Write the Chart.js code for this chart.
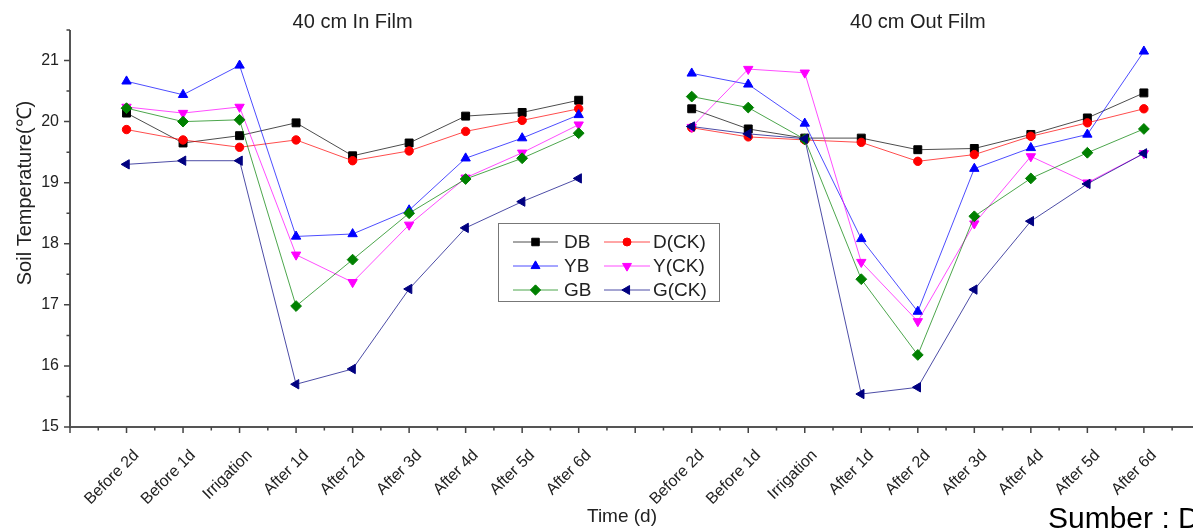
<!DOCTYPE html>
<html><head><meta charset="utf-8">
<script src="https://cdn.jsdelivr.net/npm/chart.js@4.4.1/dist/chart.umd.min.js"></script>
<style>
html,body{margin:0;padding:0;background:#fff;overflow:hidden;}
#wrap{position:relative;width:1207px;height:530px;}
</style></head><body>
<div id="wrap"><canvas id="c"></canvas></div>
<script>
// ---------- data ----------
const categories = ['Before 2d','Before 1d','Irrigation','After 1d','After 2d','After 3d','After 4d','After 5d','After 6d'];
const panelTitles = ['40 cm In Film','40 cm Out Film'];
const seriesNames = ['DB','D(CK)','YB','Y(CK)','GB','G(CK)'];
const yTickLabels = ['15','16','17','18','19','20','21'];
const yMin = 15, yMax = 21.5;
const yTitle = 'Soil Temperature(\u2103)';
const xTitle = 'Time (d)';
const sourceText = 'Sumber : D';

// 40 cm In Film
const inDB   = [20.14,19.65,19.77,19.98,19.44,19.65,20.09,20.15,20.35];
const inDCK  = [19.87,19.70,19.58,19.70,19.36,19.52,19.84,20.02,20.21];
const inYB   = [20.66,20.44,20.92,18.12,18.16,18.55,19.40,19.73,20.11];
const inYCK  = [20.24,20.14,20.24,17.82,17.37,18.31,19.08,19.49,19.95];
const inGB   = [20.22,20.00,20.03,16.98,17.74,18.50,19.06,19.40,19.81];
const inGCK  = [19.30,19.36,19.36,15.70,15.95,17.26,18.26,18.69,19.07];
// 40 cm Out Film
const outDB  = [20.21,19.88,19.73,19.73,19.54,19.56,19.79,20.06,20.47];
const outDCK = [19.90,19.75,19.70,19.66,19.35,19.46,19.76,19.98,20.21];
const outYB  = [20.79,20.61,19.97,18.08,16.89,19.23,19.57,19.79,21.15];
const outYCK = [19.91,20.86,20.80,17.70,16.73,18.33,19.43,19.00,19.48];
const outGB  = [20.41,20.23,19.71,17.42,16.18,18.45,19.07,19.49,19.88];
const outGCK = [19.92,19.80,19.72,15.54,15.65,17.25,18.37,18.98,19.48];

// ---------- styles ----------
const FONT = "'Liberation Sans', Arial, Helvetica, sans-serif";
const colors = ['#000000','#ff0000','#0000ff','#ff00ff','#008000','#000080'];
const lineColors = ['rgba(0,0,0,0.7)','rgba(255,0,0,0.7)','rgba(0,0,255,0.7)','rgba(255,0,255,0.7)','rgba(0,128,0,0.7)','rgba(0,0,128,0.7)'];
const pointStyles = ['rect','circle','triangle','triangle','rectRot','triangle'];
const pointRots = [0,0,0,180,0,270];
const pointRadii = [5.6,4.2,5.4,5.4,5.4,5.4];

// build combined axis: blank, panel 1, blank, panel 2, blank
const labels = [''].concat(categories, [''], categories, ['']);
const inSeries = [inDB,inDCK,inYB,inYCK,inGB,inGCK];
const outSeries = [outDB,outDCK,outYB,outYCK,outGB,outGCK];
const datasets = seriesNames.map((name,i)=>({
  label: name,
  data: [null].concat(inSeries[i], [null], outSeries[i], [null]),
  borderColor: lineColors[i],
  backgroundColor: colors[i],
  borderWidth: 1,
  pointStyle: pointStyles[i],
  rotation: pointRots[i],
  pointRadius: pointRadii[i],
  pointBorderWidth: 1,
  pointBorderColor: colors[i],
  pointBackgroundColor: colors[i],
  spanGaps: false,
  tension: 0,
  order: seriesNames.length - i
}));

const H = Chart.helpers;
function marker(ctx, i, x, y){
  ctx.save();
  ctx.fillStyle = colors[i]; ctx.strokeStyle = colors[i]; ctx.lineWidth = 1;
  H.drawPoint(ctx, {pointStyle: pointStyles[i], radius: pointRadii[i]*0.95, rotation: pointRots[i], borderWidth: 1}, x, y);
  ctx.restore();
}

const decor = {
  id: 'decor',
  afterDraw(chart){
    const {ctx, chartArea: a, scales: {x, y}} = chart;
    ctx.save();
    // axes lines
    ctx.strokeStyle = '#555'; ctx.lineWidth = 2;
    ctx.beginPath();
    ctx.moveTo(a.left, a.top); ctx.lineTo(a.left, a.bottom); ctx.lineTo(a.right + 10, a.bottom);
    ctx.stroke();
    // ticks
    ctx.lineWidth = 1.5; ctx.strokeStyle = '#444';
    ctx.beginPath();
    for (let v = yMin; v <= yMax + 1e-9; v += 0.5){
      const py = y.getPixelForValue(v);
      const len = Number.isInteger(v) ? 6 : 3.5;
      ctx.moveTo(a.left - len, py); ctx.lineTo(a.left, py);
    }
    for (let i = 0; i < labels.length; i++){
      const px = x.getPixelForValue(i);
      ctx.moveTo(px, a.bottom); ctx.lineTo(px, a.bottom + 6);
      if (i < labels.length - 1){
        const mx = (px + x.getPixelForValue(i + 1)) / 2;
        ctx.moveTo(mx, a.bottom); ctx.lineTo(mx, a.bottom + 3.5);
      }
    }
    ctx.stroke();
    // panel titles
    ctx.fillStyle = '#222';
    ctx.font = '20px ' + FONT;
    ctx.textAlign = 'center'; ctx.textBaseline = 'middle';
    const c1 = (x.getPixelForValue(1) + x.getPixelForValue(categories.length)) / 2;
    const c2 = (x.getPixelForValue(categories.length + 2) + x.getPixelForValue(2 * categories.length + 1)) / 2;
    ctx.fillText(panelTitles[0], c1, 22);
    ctx.fillText(panelTitles[1], c2, 22);
    // y title
    ctx.save();
    ctx.translate(25, 193);
    ctx.rotate(-Math.PI / 2);
    ctx.font = '20px ' + FONT;
    ctx.fillText(yTitle, 0, 0);
    ctx.restore();
    // x title
    ctx.font = '19px ' + FONT;
    ctx.fillText(xTitle, 622, 517);
    // source text
    ctx.fillStyle = '#000';
    ctx.textAlign = 'left'; ctx.textBaseline = 'alphabetic';
    ctx.font = '30px ' + FONT;
    ctx.fillText(sourceText, 1048, 528);
    // legend
    const bx = 498, by = 223, bw = 221, bh = 78;
    ctx.fillStyle = '#fff';
    ctx.fillRect(bx, by, bw, bh);
    ctx.strokeStyle = '#777'; ctx.lineWidth = 1;
    ctx.strokeRect(bx + 0.5, by + 0.5, bw, bh);
    ctx.font = '19px ' + FONT;
    ctx.textAlign = 'left'; ctx.textBaseline = 'middle';
    const cols = [{x0: 513, x1: 558, tx: 564}, {x0: 604, x1: 650, tx: 653}];
    const rows = [242, 266, 290];
    seriesNames.forEach((name, i) => {
      const c = cols[i % 2], ry = rows[Math.floor(i / 2)];
      ctx.strokeStyle = lineColors[i]; ctx.lineWidth = 1;
      ctx.beginPath(); ctx.moveTo(c.x0, ry); ctx.lineTo(c.x1, ry); ctx.stroke();
      marker(ctx, i, (c.x0 + c.x1) / 2, ry);
      ctx.fillStyle = '#222';
      ctx.fillText(name, c.tx, ry + 1);
    });
    ctx.restore();
  }
};

new Chart(document.getElementById('c'), {
  type: 'line',
  data: { labels: labels, datasets: datasets },
  options: {
    responsive: true,
    maintainAspectRatio: false,
    animation: false,
    events: [],
    layout: { padding: { top: 30, right: 0, bottom: 0, left: 0 } },
    plugins: { legend: { display: false }, tooltip: { enabled: false }, title: { display: false } },
    scales: {
      x: {
        type: 'category',
        offset: false,
        grid: { display: false, drawTicks: false },
        border: { display: false },
        ticks: {
          autoSkip: false, maxRotation: 45, minRotation: 45, padding: 19, labelOffset: 10,
          color: '#222', font: { family: FONT, size: 16 }
        },
        afterFit(s){ s.height = 103; s.paddingLeft = 0; s.paddingRight = 0; }
      },
      y: {
        type: 'linear',
        min: yMin, max: yMax,
        grid: { display: false, drawTicks: false },
        border: { display: false },
        ticks: {
          stepSize: 0.5, padding: 11, color: '#222', font: { family: FONT, size: 16 },
          callback: (v) => { const s = String(v); return yTickLabels.includes(s) ? s : ''; }
        },
        afterFit(s){ s.width = 70; s.paddingTop = 0; s.paddingBottom = 0; }
      }
    }
  },
  plugins: [decor]
});
</script>
</body></html>
